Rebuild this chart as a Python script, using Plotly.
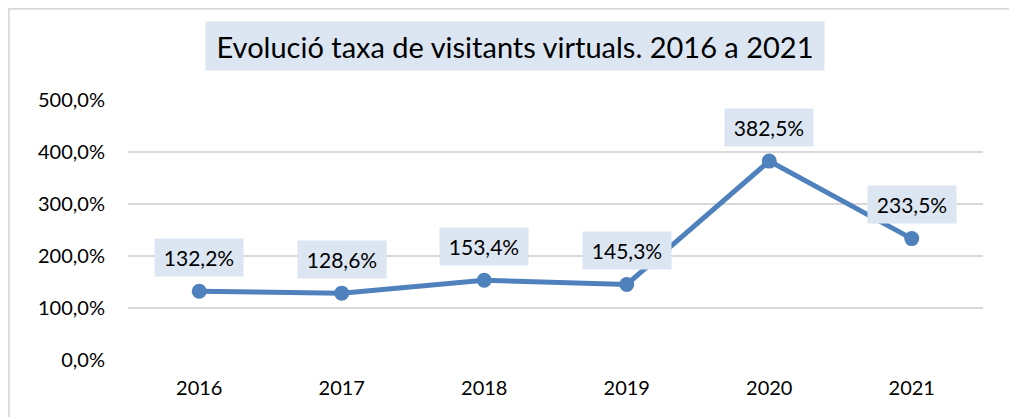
import plotly.graph_objects as go

years = ["2016", "2017", "2018", "2019", "2020", "2021"]
rates = [132.2, 128.6, 153.4, 145.3, 382.5, 233.5]
y_ticks = [0, 100, 200, 300, 400, 500]
title_text = "Evolució taxa de visitants virtuals. 2016 a 2021"

def pct(v):
    return f"{v:.1f}%".replace(".", ",")

FONT = "Lato, Carlito, Calibri, sans-serif"
LINE = "#4F81BD"
LABEL_BG = "#DCE6F2"

fig = go.Figure()
fig.add_trace(go.Scatter(
    x=years, y=rates, mode="lines+markers",
    line=dict(color=LINE, width=5),
    marker=dict(color=LINE, size=15),
    hoverinfo="skip", showlegend=False,
))

for i, (xv, yv) in enumerate(zip(years, rates)):
    fig.add_annotation(
        x=i, y=yv, xref="x", yref="y", text=pct(yv), showarrow=False,
        yshift=34, bgcolor=LABEL_BG, borderpad=0, width=88, height=37,
        font=dict(family=FONT, size=21, color="#000000"),
    )
fig.add_annotation(
    x=0.4526, y=1.2077, xref="paper", yref="paper", text=title_text,
    showarrow=False, bgcolor=LABEL_BG, borderpad=0, width=618, height=48,
    yanchor="middle",
    font=dict(family=FONT, size=29, color="#000000"),
)

fig.update_layout(
    width=1009, height=409,
    margin=dict(l=120, r=34, t=92, b=57, autoexpand=False),
    paper_bgcolor="white", plot_bgcolor="white",
    shapes=[dict(type="rect", xref="paper", yref="paper",
                 x0=-0.1395, x1=1.0327, y0=-0.5, y1=1.351,
                 line=dict(color="#D9D9D9", width=2), layer="below")],
    xaxis=dict(
        type="category", showgrid=False, zeroline=False, showline=False,
        ticks="", tickfont=dict(family=FONT, size=20, color="#000000"),
        range=[-0.5, 5.5], automargin=False, ticklabelstandoff=14,
    ),
    yaxis=dict(
        range=[0, 500], tickvals=y_ticks, ticktext=[pct(v) for v in y_ticks],
        showgrid=True, gridcolor="#D9D9D9", gridwidth=1.5,
        zeroline=False, showline=False, ticks="",
        tickfont=dict(family=FONT, size=20, color="#000000"),
        ticklabelstandoff=22, automargin=False,
    ),
)

fig.write_html("out.html")
